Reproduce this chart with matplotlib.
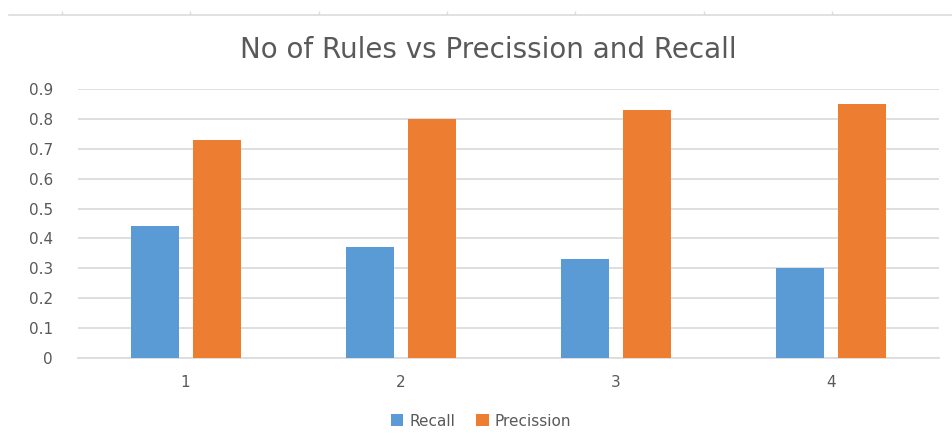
import matplotlib
matplotlib.use("Agg")
import matplotlib.pyplot as plt
import numpy as np

categories = ["1", "2", "3", "4"]
recall = [0.44, 0.37, 0.33, 0.30]
precission = [0.73, 0.80, 0.83, 0.85]
yticks = [0, 0.1, 0.2, 0.3, 0.4, 0.5, 0.6, 0.7, 0.8, 0.9]
ytick_labels = ["0", "0.1", "0.2", "0.3", "0.4", "0.5", "0.6", "0.7", "0.8", "0.9"]

plt.rcParams['font.family'] = ['DejaVu Sans']
W, H = 952, 442
fig = plt.figure(figsize=(W / 100, H / 100), dpi=100)
fig.patch.set_facecolor("white")

TEXT = "#595959"
GRID = "#dcdcdc"

ax = fig.add_axes([78 / W, 1 - 358 / H, (939 - 78) / W, (358 - 89) / H])
x = np.arange(len(categories))
bw = 0.223
off = 0.144
ax.bar(x - off, recall, bw, color="#5B9BD5", label="Recall", zorder=3)
ax.bar(x + off, precission, bw, color="#ED7D31", label="Precission", zorder=3)
ax.set_xlim(-0.5, len(categories) - 0.5)
ax.set_ylim(0, 0.9)
ax.set_yticks(yticks)
ax.set_yticklabels(ytick_labels)
ax.set_xticks(x)
ax.set_xticklabels(categories)
ax.grid(axis="y", color=GRID, linewidth=1.3, zorder=0)
for s in ["top", "right", "left"]:
    ax.spines[s].set_visible(False)
ax.spines["bottom"].set_color(GRID)
ax.spines["bottom"].set_linewidth(1.3)
ax.tick_params(axis="both", length=0, colors=TEXT, labelsize=11)
ax.tick_params(axis="y", pad=18)
ax.tick_params(axis="x", pad=12)

fig.text(488 / W, 1 - 50 / H, "No of Rules vs Precission and Recall",
         ha="center", va="center", fontsize=20, color=TEXT)

leg = fig.legend(loc="center", bbox_to_anchor=(481 / W, 1 - 421 / H), ncol=2,
                 frameon=False, fontsize=11, handlelength=0.8, handleheight=0.8,
                 handletextpad=0.4, columnspacing=1.4, labelcolor=TEXT)

# top decorative ruler line
axt = fig.add_axes([9 / W, 1 - 15 / H, (W - 9) / W, 0.0001])
axt.set_xlim(9, W)
axt.set_xticks([62 + 128.3 * i for i in range(7)])
axt.set_xticklabels([])
axt.set_yticks([])
for s in ["top", "right", "left"]:
    axt.spines[s].set_visible(False)
axt.spines["bottom"].set_color(GRID)
axt.spines["bottom"].set_linewidth(1.2)
axt.tick_params(axis="x", direction="in", length=3, color=GRID, width=1)
axt.patch.set_alpha(0)

fig.savefig("out.png", dpi=100, facecolor="white")
